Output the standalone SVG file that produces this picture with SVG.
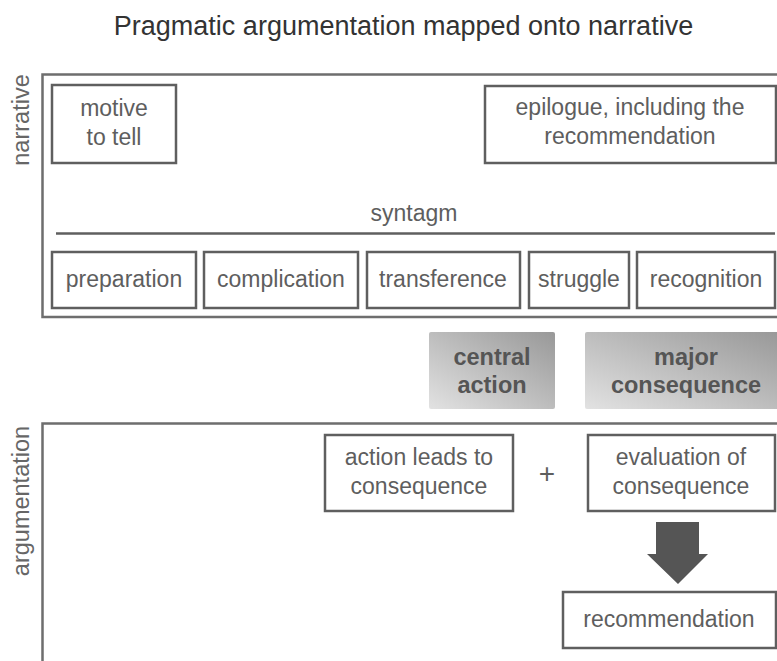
<svg xmlns="http://www.w3.org/2000/svg" width="777" height="661" viewBox="0 0 777 661">
<style>
text{font-family:"Liberation Sans",Arial,sans-serif;fill:#5e5e5e;text-anchor:middle}
.title{font-size:27px;fill:#333}
.lbl{font-size:23.5px;fill:#666}
.box{fill:#fff;stroke:#5f5f5f;stroke-width:2.5}
.t{font-size:23px}
.frame{fill:none;stroke:#6e6e6e;stroke-width:2.5}
.bold{font-size:23.5px;font-weight:bold;fill:#555}
</style>
<defs>
<linearGradient id="g" x1="0" y1="1" x2="1" y2="0">
<stop offset="0" stop-color="#e2e2e2"/>
<stop offset="1" stop-color="#989898"/>
</linearGradient>
</defs>
<text class="title" x="403.5" y="35">Pragmatic argumentation mapped onto narrative</text>
<g id="frames">
<path class="frame" d="M777 74.5H42.5V317H777"/>
<path class="frame" d="M777 423.5H42.5V661"/>
<line x1="56" y1="233.5" x2="775" y2="233.5" stroke="#5f5f5f" stroke-width="2.5"/>
</g>
<text class="lbl" transform="translate(29,120) rotate(-90)">narrative</text>
<text class="lbl" transform="translate(29,501) rotate(-90)">argumentation</text>
<text class="t" x="414" y="221">syntagm</text>
<g id="motive"><rect class="box" x="52" y="85" width="124" height="78"/><text class="t" x="114" y="116">motive</text><text class="t" x="114" y="145">to tell</text></g>
<g id="epilogue"><rect class="box" x="485" y="86" width="291" height="77"/><text class="t" x="630" y="115">epilogue, including the</text><text class="t" x="630" y="144">recommendation</text></g>
<g id="preparation"><rect class="box" x="52" y="252" width="144" height="56"/><text class="t" x="124" y="287">preparation</text></g>
<g id="complication"><rect class="box" x="204" y="252" width="154" height="56"/><text class="t" x="281" y="287">complication</text></g>
<g id="transference"><rect class="box" x="367" y="252" width="153" height="56"/><text class="t" x="443" y="287">transference</text></g>
<g id="struggle"><rect class="box" x="529" y="252" width="100" height="56"/><text class="t" x="579" y="287">struggle</text></g>
<g id="recognition"><rect class="box" x="637" y="252" width="138" height="56"/><text class="t" x="706" y="287">recognition</text></g>
<g id="central"><rect x="429" y="332" width="126" height="77" rx="2" fill="url(#g)"/><text class="bold" x="492" y="365">central</text><text class="bold" x="492" y="393">action</text></g>
<g id="major"><rect x="585" y="332" width="195" height="77" rx="2" fill="url(#g)"/><text class="bold" x="686" y="365">major</text><text class="bold" x="686" y="393">consequence</text></g>
<g id="action"><rect class="box" x="325" y="435" width="188" height="76"/><text class="t" x="419" y="465">action leads to</text><text class="t" x="419" y="494">consequence</text></g>
<text x="547" y="483" style="font-size:28px">+</text>
<g id="evaluation"><rect class="box" x="588" y="435" width="187" height="76"/><text class="t" x="681" y="465">evaluation of</text><text class="t" x="681" y="494">consequence</text></g>
<g id="connectors"><path d="M656 522H699V554H708L678 584L647 554H656Z" fill="#555"/></g>
<g id="recommendation"><rect class="box" x="563" y="592" width="213" height="56"/><text class="t" x="669" y="627">recommendation</text></g>
</svg>
